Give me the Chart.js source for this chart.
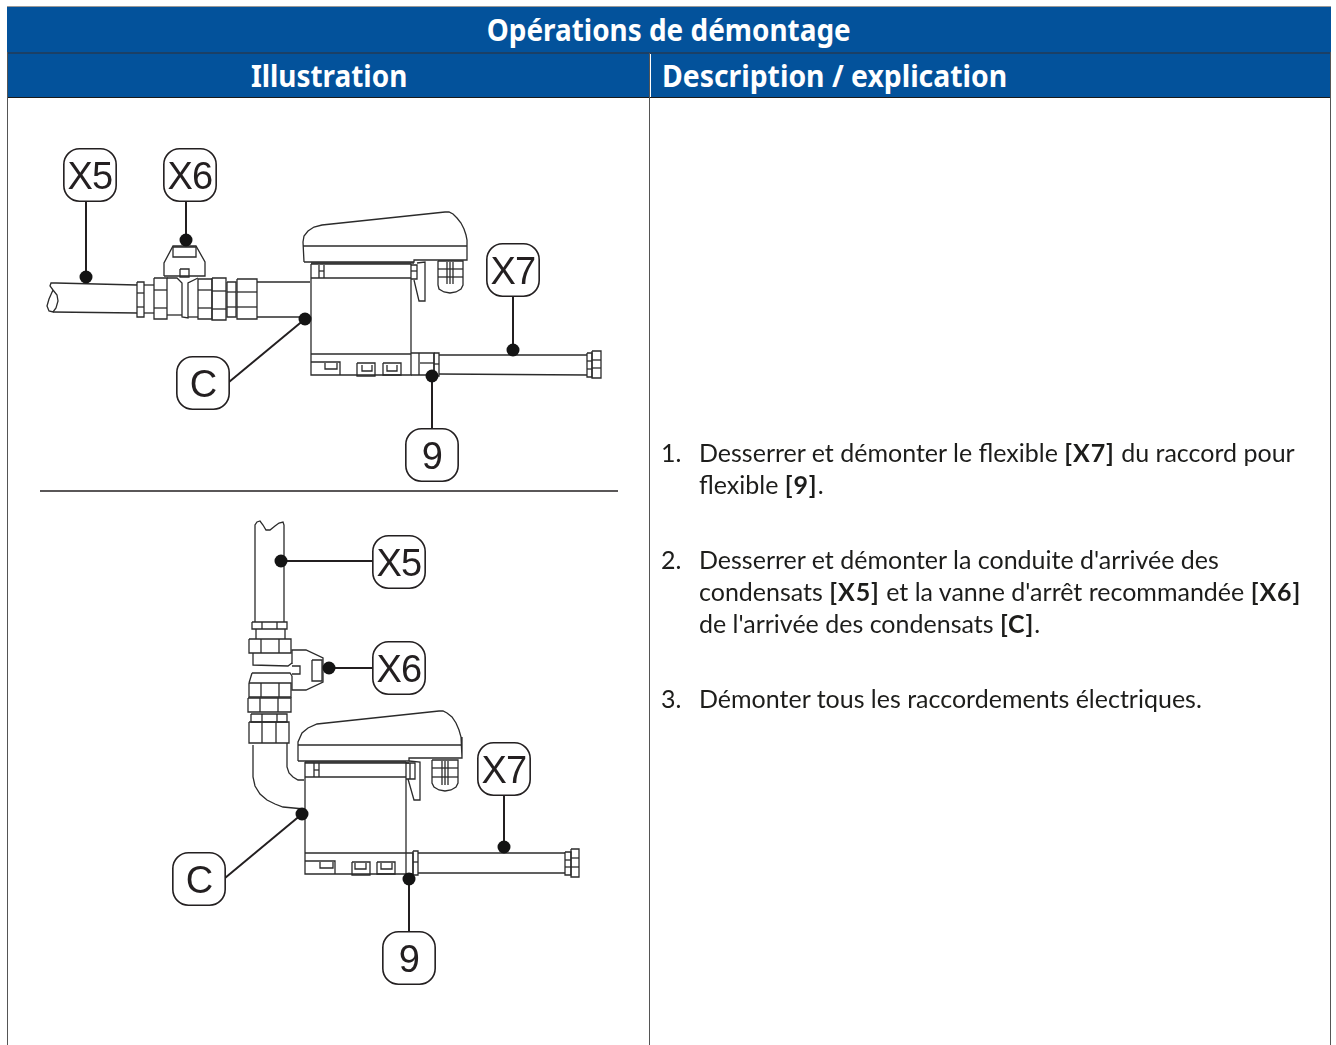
<!DOCTYPE html>
<html lang="fr">
<head>
<meta charset="utf-8">
<title>Opérations de démontage</title>
<script src="https://cdn.jsdelivr.net/npm/chart.js@4"></script>
<style>
  html, body { margin: 0; background: #fff; overflow: hidden; }
  #page { position: relative; width: 1336px; height: 1045px; overflow: hidden; font-family: "Noto Sans", sans-serif; }
  .head { position: absolute; background: #03529b; color: #fff; font-weight: 700; font-size: 30px; line-height: 45px; text-align: center; white-space: nowrap; }
  .head span { display: inline-block; transform: scaleX(0.93); }
  .rule { position: absolute; }
  #drawing { position: absolute; left: 0; top: 0; }
  .step { position: absolute; left: 699px; font-family: Lato, sans-serif; font-size: 25px; line-height: 32px; color: #1d1d1b; white-space: nowrap; }
  .step i { position: absolute; left: -38px; font-style: normal; }
  .step b { font-weight: 700; letter-spacing: 0.9px; }
  .tag { position: absolute; width: 60px; height: 44px; line-height: 44px; text-align: center; font-family: "Liberation Sans", sans-serif; font-size: 38px; letter-spacing: -0.8px; color: #231f20; }
</style>
</head>
<body>
<div id="page">
  <div class="head" style="left:7px;top:7px;width:1324px;height:45px"><span>Opérations de démontage</span></div>
  <div class="head" style="left:8px;top:53px;width:642px;height:44px"><span>Illustration</span></div>
  <div class="head" style="left:651px;top:53px;width:680px;height:44px;text-align:left"><span style="margin-left:11px;transform:scaleX(0.945);transform-origin:left">Description / explication</span></div>
  <div class="rule" style="left:7px;top:6px;width:1324px;height:1px;background:#999"></div>
  <div class="rule" style="left:7px;top:52px;width:1324px;height:2px;background:#1b4066"></div>
  <div class="rule" style="left:7px;top:97px;width:1324px;height:1px;background:#1a1a1a"></div>
  <div class="rule" style="left:7px;top:52px;width:1px;height:993px;background:#555"></div>
  <div class="rule" style="left:649px;top:53px;width:1px;height:992px;background:#555"></div>
  <div class="rule" style="left:1330px;top:52px;width:1px;height:993px;background:#555"></div>
  <canvas id="drawing" width="1336" height="1045"></canvas>
  <div class="step" style="top:436px"><i>1.</i>Desserrer et démonter le flexible <b>[X7]</b> du raccord pour<br>flexible <b>[9]</b>.</div>
  <div class="step" style="top:543px"><i>2.</i>Desserrer et démonter la conduite d'arrivée des<br>condensats <b>[X5]</b> et la vanne d'arrêt recommandée <b>[X6]</b><br>de l'arrivée des condensats <b>[C]</b>.</div>
  <div class="step" style="top:682px"><i>3.</i>Démonter tous les raccordements électriques.</div>
</div>
<script>
// callouts: label, box centre, and where the leader ends (the black dot)
const TAG_LABELS = ['X5', 'X6', 'C', 'X7', '9', 'X5', 'X6', 'C', 'X7', '9'];
const TAG_X = [90, 190, 203, 513, 432, 399, 399, 199, 504, 409];
const TAG_Y = [175, 175, 383, 270, 455, 562, 668, 879, 769, 958];
const DOT_X = [86, 186, 305, 513, 432, 281, 329, 302, 504, 409];
const DOT_Y = [277, 240, 319, 350, 376, 561, 668, 814, 847, 879];
const LEADER_X = [86, 186, 229, 513, 432, 373, 373, 225, 504, 409];
const LEADER_Y = [201, 201, 382, 297, 429, 561, 668, 878, 795, 932];
const DIVIDER = [40, 491, 618, 491];

// flat x,y lists, one outline each
const TOP_PIPE = [
  [137, 285, 56, 283, 51, 283, 50, 286, 53, 290, 57, 295, 58, 301, 56, 308, 53, 312, 49, 311, 47, 306, 49, 299, 53, 290],
  [53, 312, 137, 313],
  [144, 285, 154, 285], [144, 313, 154, 313],
  [257, 282, 310, 282], [257, 317, 305, 317],
];
const TOP_VALVE = [
  [137, 282, 144, 282, 144, 317, 137, 317, 137, 282], [137, 293, 144, 293], [137, 307, 144, 307],
  [154, 278, 167, 278, 167, 319, 154, 319, 154, 278], [154, 290, 167, 290], [154, 308, 167, 308],
  [167, 278, 177, 278, 182, 283, 182, 317, 188, 318, 188, 283, 198, 278], [167, 315, 182, 315], [188, 317, 198, 317],
  [198, 279, 212, 279, 212, 319, 198, 319, 198, 279], [198, 290, 212, 290], [198, 308, 212, 308],
  [212, 278, 226, 278, 226, 320, 212, 320, 212, 278], [212, 291, 226, 291], [212, 309, 226, 309],
  [227, 282, 236, 282, 236, 317, 227, 317, 227, 282], [227, 292, 236, 292], [227, 307, 236, 307],
  [237, 279, 257, 279, 257, 319, 237, 319, 237, 279], [237, 292, 257, 292], [237, 307, 257, 307],
  [164, 276, 164, 263, 173, 246, 196, 246, 205, 262, 205, 276, 164, 276],
  [173, 247, 196, 247, 196, 257, 173, 257, 173, 247],
  [180, 269, 189, 269, 189, 277, 180, 277, 180, 269],
];
const TOP_UNIT = [
  [304, 262, 303, 242, 304, 236, 308, 231, 314, 227, 322, 225, 445, 212, 449, 212, 453, 214, 457, 218, 461, 223, 464, 229, 466, 235, 467, 240, 467, 260, 414, 260, 414, 262, 304, 262],
  [303, 246, 467, 246],
  [311, 264, 411, 264], [311, 263, 414, 263],
  [311, 264, 311, 375, 411, 375, 411, 264], [311, 278, 411, 278], [311, 354, 411, 354],
  [319, 265, 319, 278], [324, 265, 324, 278], [319, 271, 324, 271],
  [411, 265, 417, 265, 417, 279, 411, 279], [411, 271, 417, 271],
  [417, 263, 425, 262, 425, 301, 419, 301, 414, 280],
  [438, 261, 463, 261, 463, 285, 461, 289, 456, 292, 450, 293, 444, 292, 439, 289, 438, 285, 438, 261],
  [438, 269, 463, 269], [438, 277, 463, 277],
  [447, 262, 447, 284], [450, 262, 450, 284], [453, 262, 453, 284],
  [311, 362, 340, 362, 340, 375], [325, 363, 325, 369, 337, 369, 337, 363],
  [357, 363, 375, 363, 375, 376, 357, 376, 357, 363], [362, 365, 362, 371, 372, 371, 372, 365],
  [383, 363, 401, 363, 401, 375, 383, 375, 383, 363], [387, 365, 387, 371, 397, 371, 397, 365],
];
const TOP_HOSE = [
  [411, 353, 434, 353, 434, 375, 411, 375], [419, 353, 419, 375], [420, 363, 434, 363],
  [434, 353, 439, 353, 439, 376, 434, 376, 434, 353], [434, 364, 439, 364],
  [439, 355, 587, 355], [439, 374, 587, 375],
  [587, 353, 592, 353, 592, 377, 587, 377, 587, 353], [587, 361, 592, 361], [587, 369, 592, 369],
  [592, 351, 601, 351, 601, 378, 592, 378, 592, 351], [592, 360, 601, 360], [592, 368, 601, 368],
];
const LOW_PIPE = [
  [255, 622, 255, 525, 257, 522, 260, 521, 263, 525, 266, 530, 270, 530, 275, 526, 279, 523, 283, 522, 284, 525, 284, 622],
  [252, 622, 287, 622, 287, 629, 252, 629, 252, 622], [262, 622, 262, 629], [277, 622, 277, 629],
  [256, 629, 256, 639], [285, 629, 285, 639],
  [249, 639, 291, 639, 291, 653, 249, 653, 249, 639], [261, 639, 261, 653], [279, 639, 279, 653],
  [253, 653, 253, 665, 288, 666, 292, 663], [252, 673, 290, 673, 292, 676], [252, 673, 249, 683],
  [249, 683, 291, 683, 291, 697, 249, 697, 249, 683], [261, 683, 261, 697], [279, 683, 279, 697],
  [248, 698, 291, 698, 291, 712, 248, 712, 248, 698], [260, 698, 260, 712], [278, 698, 278, 712],
  [251, 714, 287, 714, 287, 722, 251, 722, 251, 714], [262, 714, 262, 722], [277, 714, 277, 722],
  [249, 722, 289, 722, 289, 743, 249, 743, 249, 722], [262, 722, 262, 743], [276, 722, 276, 743],
];
const LOW_VALVE = [
  [292, 664, 292, 650, 306, 650, 323, 658, 323, 682, 306, 690, 292, 690, 292, 676],
  [312, 660, 322, 660, 322, 681, 312, 681, 312, 660],
  [292, 666, 300, 666, 300, 674, 292, 674],
];
const LOW_ELBOW = [
  [253, 745, 253, 777, 255, 786, 260, 794, 267, 800, 275, 804, 283, 807, 304, 809],
  [287, 743, 287, 767, 289, 773, 293, 777, 298, 780, 304, 780],
];
const LOW_UNIT = [
  [298, 761, 298, 742, 302, 733, 308, 728, 317, 724, 439, 711, 443, 711, 447, 713, 452, 717, 456, 723, 459, 730, 461, 737, 462, 743, 462, 758, 409, 758, 409, 761, 298, 761],
  [298, 745, 462, 745],
  [305, 762, 406, 762], [305, 763, 409, 763],
  [305, 762, 305, 874, 406, 874, 406, 762], [305, 777, 406, 777], [305, 853, 406, 853],
  [314, 763, 314, 777], [319, 763, 319, 777], [314, 770, 319, 770],
  [406, 763, 415, 763, 415, 779, 406, 779], [410, 763, 410, 779],
  [409, 761, 420, 762, 420, 800, 414, 800, 408, 779],
  [432, 760, 458, 760, 458, 783, 456, 787, 451, 790, 445, 791, 439, 790, 434, 787, 432, 783, 432, 760],
  [432, 768, 458, 768], [432, 777, 458, 777],
  [442, 761, 442, 785], [445, 761, 445, 785], [448, 761, 448, 785],
  [305, 861, 335, 861, 335, 874], [320, 862, 320, 868, 333, 868, 333, 862],
  [352, 862, 370, 862, 370, 875, 352, 875, 352, 862], [355, 863, 355, 869, 366, 869, 366, 863],
  [377, 862, 395, 862, 395, 874, 377, 874, 377, 862], [381, 863, 381, 869, 392, 869, 392, 863],
];
const LOW_HOSE = [
  [406, 853, 413, 853, 413, 874, 406, 874],
  [413, 851, 418, 851, 418, 875, 413, 875, 413, 851], [413, 862, 418, 862],
  [418, 853, 565, 853], [418, 873, 565, 873],
  [565, 852, 571, 852, 571, 875, 565, 875, 565, 852], [565, 860, 571, 860], [565, 867, 571, 867],
  [571, 849, 579, 849, 579, 877, 571, 877, 571, 849], [571, 858, 579, 858], [571, 867, 579, 867],
];

const OUTLINES = [TOP_PIPE, TOP_VALVE, TOP_UNIT, TOP_HOSE, LOW_PIPE, LOW_VALVE, LOW_ELBOW, LOW_UNIT, LOW_HOSE].flat();

function toPoints(flat) {
  const pts = [];
  for (let i = 0; i < flat.length; i += 2) pts.push({ x: flat[i], y: flat[i + 1] });
  return pts;
}

function lineSet(flat, width, color) {
  return { data: toPoints(flat), showLine: true, borderColor: color, borderWidth: width, pointRadius: 0, fill: false, tension: 0 };
}

const leaders = DOT_X.map((x, i) => lineSet([LEADER_X[i], LEADER_Y[i], x, DOT_Y[i]], 2, '#231f20'));

const datasets = [
  {
    data: TAG_X.map((x, i) => ({ x, y: TAG_Y[i] })),
    pointStyle: 'rectRounded', pointRadius: 30.5,
    pointBackgroundColor: '#fff', pointBorderColor: '#231f20', pointBorderWidth: 1.6, showLine: false,
  },
  {
    data: DOT_X.map((x, i) => ({ x, y: DOT_Y[i] })),
    pointStyle: 'circle', pointRadius: 6.5,
    pointBackgroundColor: '#141414', pointBorderColor: '#141414', pointBorderWidth: 0, showLine: false,
  },
  ...leaders,
  lineSet(DIVIDER, 1.6, '#231f20'),
  ...OUTLINES.map((o) => lineSet(o, 1.3, '#2b2b2b')),
];

const chart = new Chart(document.getElementById('drawing'), {
  type: 'scatter',
  data: { datasets },
  options: {
    responsive: false, animation: false, events: [],
    layout: { padding: 0, autoPadding: false },
    clip: false,
    scales: {
      x: { type: 'linear', min: 0, max: 1336, display: false },
      y: { type: 'linear', min: 0, max: 1045, reverse: true, display: false },
    },
    plugins: { legend: { display: false }, tooltip: { enabled: false }, title: { display: false } },
  },
});

// callout text stays real text, placed through the chart's scales
TAG_LABELS.forEach((label, i) => {
  const el = document.createElement('div');
  el.className = 'tag';
  el.textContent = label;
  el.style.left = `${chart.scales.x.getPixelForValue(TAG_X[i]) - 30}px`;
  el.style.top = `${chart.scales.y.getPixelForValue(TAG_Y[i]) - 21}px`;
  document.getElementById('page').appendChild(el);
});
</script>
</body>
</html>
